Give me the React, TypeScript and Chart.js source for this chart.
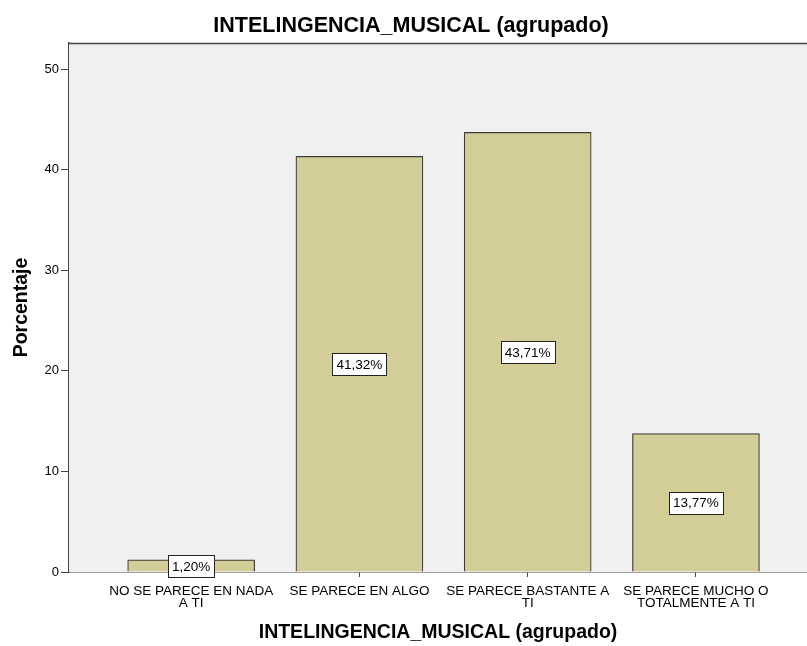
import React, { useEffect, useRef } from "react";
import { Chart, registerables } from "chart.js";

Chart.register(...registerables);

const chartTitle = "INTELINGENCIA_MUSICAL (agrupado)";
const xAxisTitle = "INTELINGENCIA_MUSICAL (agrupado)";
const yAxisTitle = "Porcentaje";

const categories: string[][] = [
  ["NO SE PARECE EN NADA", "A TI"],
  ["SE PARECE EN ALGO"],
  ["SE PARECE BASTANTE A", "TI"],
  ["SE PARECE MUCHO O", "TOTALMENTE A TI"],
];
const percentages: number[] = [1.2, 41.32, 43.71, 13.77];
const yTicks: number[] = [0, 10, 20, 30, 40, 50];

const FONT = "'Liberation Sans', Arial, sans-serif";
const PLOT_BG = "#F0F0F0";
const BAR_FILL = "#D3CE97";
const AXIS_COLOR = "#444444";

const formatPct = (v: number) => v.toFixed(2).replace(".", ",") + "%";

// Plot background, top frame line, chart title and the value boxes
const decorations = {
  id: "decorations",
  beforeDatasetsDraw(chart: any) {
    const { ctx, chartArea } = chart;
    ctx.save();
    ctx.fillStyle = PLOT_BG;
    ctx.fillRect(chartArea.left, chartArea.top, chartArea.right - chartArea.left, chartArea.bottom - chartArea.top);
    ctx.restore();
  },
  afterDatasetsDraw(chart: any) {
    const { ctx, chartArea, scales } = chart;
    ctx.save();
    ctx.strokeStyle = AXIS_COLOR;
    ctx.lineWidth = 1.5;
    ctx.beginPath();
    ctx.moveTo(chartArea.left, chartArea.top + 0.5);
    ctx.lineTo(chartArea.right, chartArea.top + 0.5);
    ctx.stroke();

    // value boxes centred at half the bar height
    ctx.font = `13.5px ${FONT}`;
    ctx.textAlign = "center";
    ctx.textBaseline = "middle";
    percentages.forEach((v, i) => {
      const cx = scales.x.getPixelForValue(i);
      const cy = scales.y.getPixelForValue(v / 2);
      const text = formatPct(v);
      const w = Math.round(ctx.measureText(text).width) + 8;
      const h = 22;
      const bx = Math.round(cx - w / 2) + 0.5;
      const by = Math.round(cy - h / 2) + 0.5;
      ctx.fillStyle = "#FFFFFF";
      ctx.fillRect(bx, by, w, h);
      ctx.strokeStyle = "#222222";
      ctx.lineWidth = 1;
      ctx.strokeRect(bx, by, w, h);
      ctx.fillStyle = "#000000";
      ctx.fillText(text, cx, cy + 1);
    });

    ctx.font = `bold 21.5px ${FONT}`;
    ctx.textAlign = "center";
    ctx.textBaseline = "alphabetic";
    ctx.fillStyle = "#000000";
    ctx.fillText(chartTitle, 411, 32);
    ctx.restore();
  },
};

export default function App() {
  const canvasRef = useRef<HTMLCanvasElement | null>(null);

  useEffect(() => {
    if (!canvasRef.current) return;
    const chart = new Chart(canvasRef.current, {
      type: "bar",
      data: {
        datasets: [
          {
            data: percentages.map((v, i) => ({ x: i, y: v })),
            backgroundColor: BAR_FILL,
            borderColor: "#3E3E36",
            borderWidth: 1.2,
            barThickness: 127,
          },
        ],
      },
      options: {
        animation: false,
        responsive: false,
        maintainAspectRatio: false,
        layout: { padding: { top: 43, left: 0, right: 0, bottom: 0 } },
        plugins: {
          legend: { display: false },
          tooltip: { enabled: false },
          title: { display: false },
        },
        scales: {
          x: {
            type: "linear",
            min: -0.726,
            max: 3.66,
            offset: false,
            afterBuildTicks: (scale: any) => {
              scale.ticks = categories.map((_, i) => ({ value: i }));
            },
            afterFit: (scale: any) => {
              scale.height = 74;
            },
            ticks: {
              autoSkip: false,
              maxRotation: 0,
              padding: 8,
              color: "#000000",
              font: { family: FONT, size: 13.5, lineHeight: 0.9 },
              callback: (value: any) => categories[Number(value)] ?? "",
            },
            grid: {
              offset: false,
              drawOnChartArea: false,
              drawTicks: true,
              tickLength: 5,
              color: AXIS_COLOR,
              lineWidth: 1,
            },
            border: { display: true, color: AXIS_COLOR, width: 1.5 },
            title: {
              display: true,
              text: xAxisTitle,
              color: "#000000",
              font: { family: FONT, size: 19.5, weight: "bold" },
              padding: { top: 0, bottom: 2 },
            },
          },
          y: {
            min: 0,
            max: 52.6,
            afterBuildTicks: (scale: any) => {
              scale.ticks = yTicks.map((v) => ({ value: v }));
            },
            afterFit: (scale: any) => {
              scale.width = 69;
            },
            ticks: {
              padding: 2,
              color: "#000000",
              font: { family: FONT, size: 13 },
            },
            grid: {
              drawOnChartArea: false,
              drawTicks: true,
              tickLength: 8,
              color: AXIS_COLOR,
              lineWidth: 1,
            },
            border: { display: true, color: AXIS_COLOR, width: 1.5 },
            title: {
              display: true,
              text: yAxisTitle,
              color: "#000000",
              font: { family: FONT, size: 19.5, weight: "bold" },
              padding: { top: 10, bottom: 0 },
            },
          },
        },
      },
      plugins: [decorations],
    } as any);
    return () => chart.destroy();
  }, []);

  return (
    <div style={{ position: "absolute", left: 0, top: 0, width: 807, height: 646, background: "#FFFFFF" }}>
      <canvas ref={canvasRef} width={807} height={646} style={{ display: "block" }} />
    </div>
  );
}
